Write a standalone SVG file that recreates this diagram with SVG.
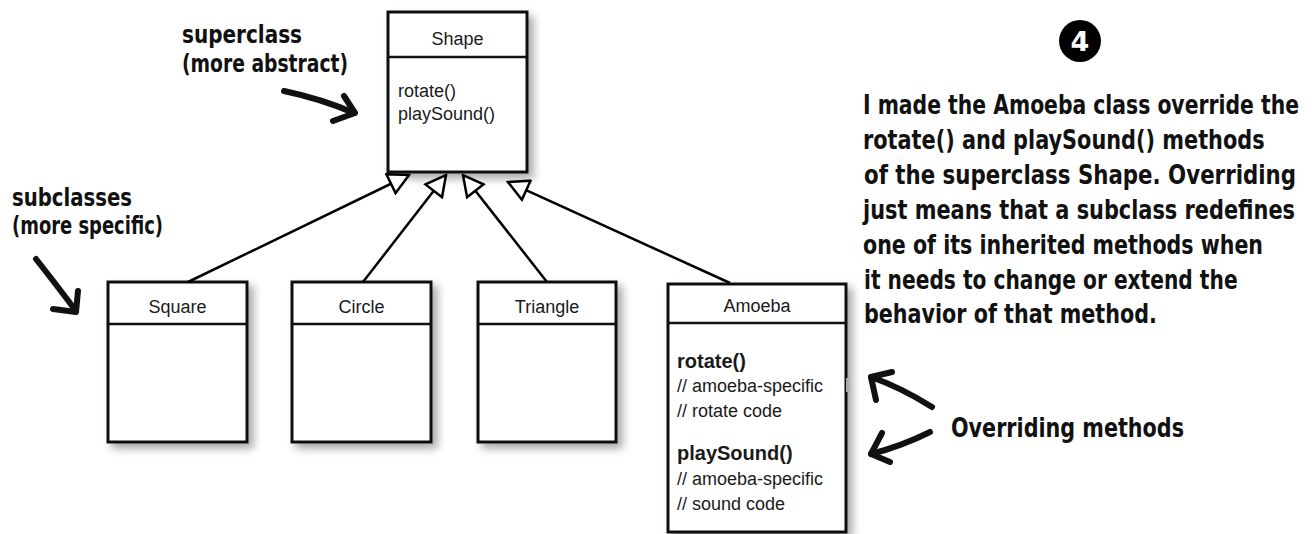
<svg xmlns="http://www.w3.org/2000/svg" width="1316" height="534" viewBox="0 0 1316 534">
<defs>
<filter id="sh" x="-20%" y="-20%" width="150%" height="150%">
<feDropShadow dx="5" dy="5" stdDeviation="4" flood-color="#000" flood-opacity="0.35"/>
</filter>
<marker id="tri" viewBox="0 0 24 24" refX="22" refY="12" markerWidth="24" markerHeight="24" markerUnits="userSpaceOnUse" orient="auto">
<path d="M2,1.5 L22,12 L2,22.5 Z" fill="#fff" stroke="#000" stroke-width="2.5" stroke-linejoin="miter"/>
</marker>
</defs>
<style>
.box{fill:#fff;stroke:#111;stroke-width:3}
.div{stroke:#111;stroke-width:2.5}
.uml{font-family:"Liberation Sans",Arial,sans-serif;font-size:18px;fill:#1a1a1a}
.ttl{text-anchor:middle}
.b{font-weight:bold;font-size:20px}
.hand{font-family:"DejaVu Sans Condensed","DejaVu Sans",sans-serif;font-weight:bold;font-stretch:condensed;fill:#111}
.h24{font-size:24px}
.h27{font-size:27px}
.conn{stroke:#000;stroke-width:2.5;fill:none}
.pen{stroke:#111;stroke-width:6;fill:none;stroke-linecap:round;stroke-linejoin:round}
</style>
<rect width="1316" height="534" fill="#fff"/>

<g id="shape">
<rect class="box" x="388" y="12" width="139" height="160" filter="url(#sh)"/>
<line class="div" x1="388" y1="57" x2="527" y2="57"/>
<text class="uml ttl" x="457.5" y="45">Shape</text>
<text class="uml" x="398" y="97">rotate()</text>
<text class="uml" x="398" y="120">playSound()</text>
</g>

<g id="square">
<rect class="box" x="108" y="282" width="139" height="160" filter="url(#sh)"/>
<line class="div" x1="108" y1="324" x2="247" y2="324"/>
<text class="uml ttl" x="177.5" y="313">Square</text>
</g>

<g id="circle">
<rect class="box" x="292" y="282" width="139" height="160" filter="url(#sh)"/>
<line class="div" x1="292" y1="324" x2="431" y2="324"/>
<text class="uml ttl" x="361.5" y="313">Circle</text>
</g>

<g id="triangle">
<rect class="box" x="478" y="282" width="138" height="160" filter="url(#sh)"/>
<line class="div" x1="478" y1="324" x2="616" y2="324"/>
<text class="uml ttl" x="547" y="313">Triangle</text>
</g>

<g id="amoeba">
<rect class="box" x="668" y="284" width="178" height="248" filter="url(#sh)"/>
<line class="div" x1="668" y1="323" x2="846" y2="323"/>
<text class="uml ttl" x="757" y="312">Amoeba</text>
<text class="uml b" x="677" y="368">rotate()</text>
<text class="uml" x="677" y="392">// amoeba-specific</text>
<text class="uml" x="677" y="417">// rotate code</text>
<text class="uml b" x="677" y="460">playSound()</text>
<text class="uml" x="677" y="485">// amoeba-specific</text>
<text class="uml" x="677" y="510">// sound code</text>
<rect x="846" y="378" width="3" height="14" fill="#aaa"/>
</g>

<g id="connectors">
<line class="conn" x1="188" y1="282" x2="409" y2="175" marker-end="url(#tri)"/>
<line class="conn" x1="363" y1="282" x2="446" y2="175" marker-end="url(#tri)"/>
<line class="conn" x1="547" y1="282" x2="463" y2="175" marker-end="url(#tri)"/>
<line class="conn" x1="730" y1="283" x2="508" y2="182" marker-end="url(#tri)"/>
</g>

<g id="label-superclass">
<text class="hand h24" x="182" y="43" textLength="120" lengthAdjust="spacingAndGlyphs">superclass</text>
<text class="hand h24" x="182" y="72" textLength="166" lengthAdjust="spacingAndGlyphs">(more abstract)</text>
<path class="pen" d="M284,91 Q322,99 354,113"/>
<path class="pen" d="M344,96 L355,113 L333,121"/>
</g>

<g id="label-subclasses">
<text class="hand h24" x="12" y="206" textLength="120" lengthAdjust="spacingAndGlyphs">subclasses</text>
<text class="hand h24" x="12" y="234" textLength="151" lengthAdjust="spacingAndGlyphs">(more specific)</text>
<path class="pen" d="M36,259 Q55,283 76,311"/>
<path class="pen" d="M53,309 L76,312 L78,291"/>
</g>

<g id="badge">
<circle cx="1080" cy="41" r="21" fill="#000"/>
<text x="1080" y="51" text-anchor="middle" font-family="DejaVu Sans, sans-serif" font-weight="bold" font-size="27" fill="#fff">4</text>
</g>

<g id="note">
<text class="hand h27" transform="translate(863,114) scale(0.8,1)" textLength="545" lengthAdjust="spacingAndGlyphs">I made the Amoeba class override the</text>
<text class="hand h27" transform="translate(863,149) scale(0.8,1)" textLength="502" lengthAdjust="spacingAndGlyphs">rotate() and playSound() methods</text>
<text class="hand h27" transform="translate(864,184) scale(0.8,1)" textLength="540" lengthAdjust="spacingAndGlyphs">of the superclass Shape. Overriding</text>
<text class="hand h27" transform="translate(863,219) scale(0.8,1)" textLength="540" lengthAdjust="spacingAndGlyphs">just means that a subclass redefines</text>
<text class="hand h27" transform="translate(863,254) scale(0.8,1)" textLength="500" lengthAdjust="spacingAndGlyphs">one of its inherited methods when</text>
<text class="hand h27" transform="translate(864,289) scale(0.8,1)" textLength="467" lengthAdjust="spacingAndGlyphs">it needs to change or extend the</text>
<text class="hand h27" transform="translate(864,323) scale(0.8,1)" textLength="366" lengthAdjust="spacingAndGlyphs">behavior of that method.</text>
</g>

<g id="label-overriding">
<text class="hand h27" x="951" y="437" textLength="233" lengthAdjust="spacingAndGlyphs">Overriding methods</text>
<path class="pen" d="M932,407 Q900,387 871,377"/>
<path class="pen" d="M892,372 L871,377 L876,400"/>
<path class="pen" d="M930,432 Q902,446 871,454"/>
<path class="pen" d="M882,433 L871,454 L890,462"/>
</g>
</svg>
